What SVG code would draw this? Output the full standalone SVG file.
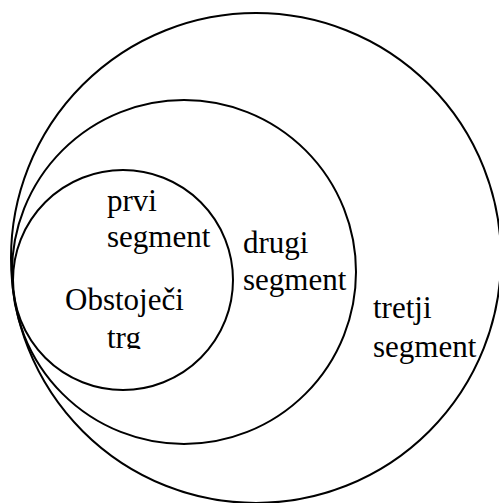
<svg xmlns="http://www.w3.org/2000/svg" width="499" height="503" viewBox="0 0 499 503">
  <style>
    .ring { fill: none; stroke: #000; stroke-width: 2; }
    .label { font-family: "Liberation Serif", "Times New Roman", serif; font-size: 31px; fill: #000; }
  </style>
  <defs>
    <clipPath id="clip-inner-text">
      <rect x="0" y="0" width="499" height="349"/>
    </clipPath>
  </defs>
  <rect width="499" height="503" fill="#fff"/>
  <g id="tretji-segment">
    <circle class="ring" cx="256" cy="258" r="245"/>
    <text class="label" x="373" y="318">tretji</text>
    <text class="label" x="373" y="357">segment</text>
  </g>
  <g id="drugi-segment">
    <circle class="ring" cx="184" cy="272" r="172"/>
    <text class="label" x="243" y="253">drugi</text>
    <text class="label" x="243" y="290">segment</text>
  </g>
  <g id="prvi-segment">
    <circle class="ring" cx="123" cy="280" r="110"/>
    <text class="label" x="107" y="211">prvi</text>
    <text class="label" x="107" y="247">segment</text>
  </g>
  <g id="obstojeci-trg" clip-path="url(#clip-inner-text)">
    <text class="label" x="65" y="310">Obstoječi</text>
    <text class="label" x="107" y="348">trg</text>
  </g>
</svg>
